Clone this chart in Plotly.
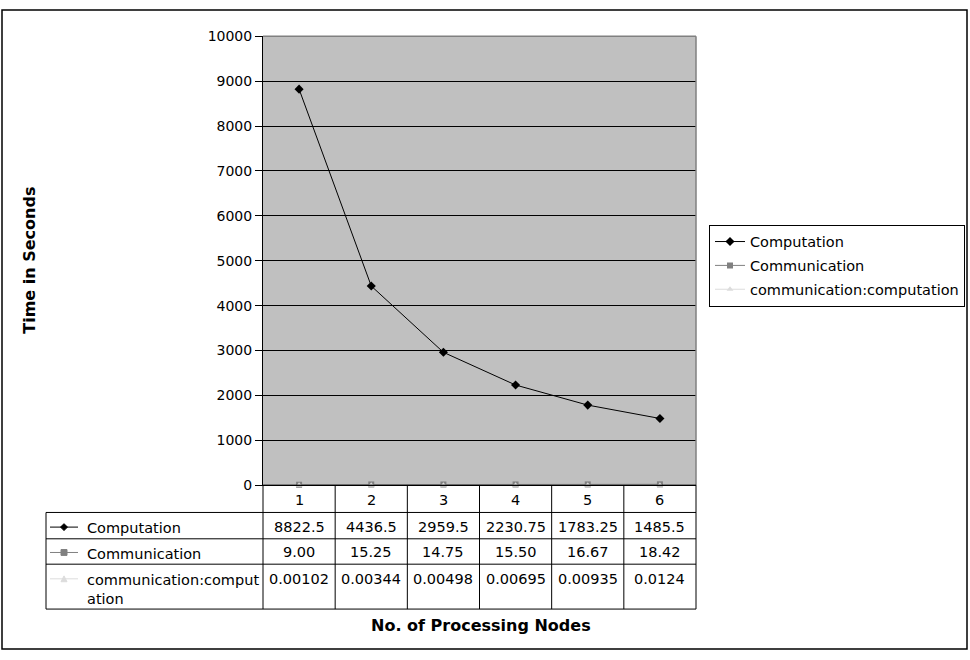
import plotly.graph_objects as go

# ---- data ----
categories = [1, 2, 3, 4, 5, 6]
computation = [8822.5, 4436.5, 2959.5, 2230.75, 1783.25, 1485.5]
communication = [9.00, 15.25, 14.75, 15.50, 16.67, 18.42]
ratio = [0.00102, 0.00344, 0.00498, 0.00695, 0.00935, 0.0124]
series_names = ["Computation", "Communication", "communication:computation"]
y_ticks = [0, 1000, 2000, 3000, 4000, 5000, 6000, 7000, 8000, 9000, 10000]

comp_txt = [f"{v:g}" for v in computation]
comm_txt = [f"{v:.2f}" for v in communication]
ratio_txt = [f"{v:g}" for v in ratio]

# ---- layout constants (pixels) ----
W, H = 970, 660
PL, PR, PT, PB = 263, 696, 29, 489
FONT = "DejaVu Sans"


def px(x):
    return x / W


def py(y):
    return 1 - y / H


fig = go.Figure()
fig.add_trace(go.Scatter(x=categories, y=computation, name=series_names[0], mode="lines+markers",
                         legendgroup="g1",
                         line=dict(color="black", width=1),
                         marker=dict(symbol="diamond", size=7, color="black"), cliponaxis=False))
fig.add_trace(go.Scatter(x=categories, y=communication, name=series_names[1], mode="lines+markers",
                         legendgroup="g2",
                         line=dict(color="#808080", width=1),
                         marker=dict(symbol="square", size=6, color="#808080"), cliponaxis=False))
fig.add_trace(go.Scatter(x=categories, y=ratio, name=series_names[2], mode="lines+markers",
                         legendgroup="g3",
                         line=dict(color="#DCDCDC", width=1),
                         marker=dict(symbol="triangle-up", size=6, color="#DCDCDC"), cliponaxis=False))

shapes = []
annotations = []

# outer border
shapes.append(dict(type="rect", xref="paper", yref="paper", x0=px(2), x1=px(967), y0=py(2), y1=py(657),
                   line=dict(color="black", width=1.5)))
# plot area top & right border (gray)
shapes.append(dict(type="line", xref="paper", yref="paper", x0=px(PL), x1=px(PR), y0=py(PT), y1=py(PT),
                   line=dict(color="#808080", width=1.5), layer="above"))
shapes.append(dict(type="line", xref="paper", yref="paper", x0=px(PR), x1=px(PR), y0=py(PT), y1=py(PB),
                   line=dict(color="#808080", width=1.5), layer="above"))

# ---- data table ----
TL = 46
rows = [PB, 517, 544, 570, 616]
colw = (PR - PL) / len(categories)
for i, r in enumerate(rows):
    x0 = PL if i == 0 else TL
    shapes.append(dict(type="line", xref="paper", yref="paper", x0=px(x0), x1=px(PR), y0=py(r), y1=py(r),
                       line=dict(color="black", width=1)))
shapes.append(dict(type="line", xref="paper", yref="paper", x0=px(TL), x1=px(TL), y0=py(rows[1]), y1=py(rows[-1]),
                   line=dict(color="black", width=1)))
for k in range(len(categories) + 1):
    xx = PL + k * colw
    shapes.append(dict(type="line", xref="paper", yref="paper", x0=px(xx), x1=px(xx), y0=py(PB), y1=py(rows[-1]),
                       line=dict(color="black", width=1)))

tfont = dict(family=FONT, size=14.5, color="black")
for c in categories:
    annotations.append(dict(x=c, xref="x", y=py(504), yref="paper", text=str(c), showarrow=False,
                            font=tfont, xanchor="center", yanchor="middle"))
row_y = [532, 558, 585]
for vals, ry in zip([comp_txt, comm_txt, ratio_txt], row_y):
    for c, t in zip(categories, vals):
        annotations.append(dict(x=c, xref="x", y=py(ry), yref="paper", text=t, showarrow=False,
                                font=tfont, xanchor="center", yanchor="middle"))

label_texts = ["Computation", "Communication", "communication:comput<br>ation"]
label_y = [532, 558, 585]
sym_colors = ["black", "#808080", "#DCDCDC"]
for i, (lt, ly, sc) in enumerate(zip(label_texts, label_y, sym_colors)):
    shapes.append(dict(type="line", xref="paper", yref="paper", x0=px(50), x1=px(78), y0=py(ly), y1=py(ly),
                       line=dict(color=sc, width=1)))
    cx, cy = 64, ly
    if i == 0:
        path = f"M {px(cx-3.5)},{py(cy)} L {px(cx)},{py(cy-3.5)} L {px(cx+3.5)},{py(cy)} L {px(cx)},{py(cy+3.5)} Z"
    elif i == 1:
        path = f"M {px(cx-3)},{py(cy-3)} L {px(cx+3)},{py(cy-3)} L {px(cx+3)},{py(cy+3)} L {px(cx-3)},{py(cy+3)} Z"
    else:
        path = f"M {px(cx-3)},{py(cy+3)} L {px(cx+3)},{py(cy+3)} L {px(cx)},{py(cy-3)} Z"
    shapes.append(dict(type="path", xref="paper", yref="paper", path=path, fillcolor=sc,
                       line=dict(color=sc, width=1)))
    annotations.append(dict(x=px(85), xref="paper", y=py(ly - 9), yref="paper", text=lt, showarrow=False,
                            font=tfont, xanchor="left", yanchor="top", align="left"))

annotations.append(dict(x=px(481), y=py(633), xref="paper", yref="paper", text="<b>No. of Processing Nodes</b>",
                        showarrow=False, font=dict(family=FONT, size=16, color="black"),
                        xanchor="center", yanchor="middle"))
annotations.append(dict(x=px(30), y=py(259), xref="paper", yref="paper", text="<b>Time in Seconds</b>",
                        showarrow=False, textangle=-90, font=dict(family=FONT, size=16, color="black"),
                        xanchor="center", yanchor="middle"))

fig.update_layout(
    width=W, height=H,
    autosize=False,
    margin=dict(l=0, r=0, t=0, b=0),
    paper_bgcolor="white",
    plot_bgcolor="#C0C0C0",
    font=dict(family=FONT, size=14, color="black"),
    showlegend=True,
    legend=dict(x=px(709), y=py(222), xanchor="left", yanchor="top",
                bgcolor="white", bordercolor="black", borderwidth=1,
                font=dict(family=FONT, size=14.5, color="black"),
                tracegroupgap=2),
    xaxis=dict(domain=[px(PL), px(PR)], range=[0.5, 6.5], showticklabels=False, showgrid=False,
               zeroline=False, showline=True, linecolor="black", linewidth=1, ticks=""),
    yaxis=dict(domain=[py(PB), py(PT)], range=[0, 10000], tickvals=y_ticks,
               ticktext=[str(v) for v in y_ticks], showgrid=True, gridcolor="black", gridwidth=1,
               zeroline=False, showline=True, linecolor="black", linewidth=1,
               ticks="outside", ticklen=7, tickcolor="black",
               tickfont=dict(family=FONT, size=14, color="black")),
    shapes=shapes,
    annotations=annotations,
)

fig.write_html("out.html")
